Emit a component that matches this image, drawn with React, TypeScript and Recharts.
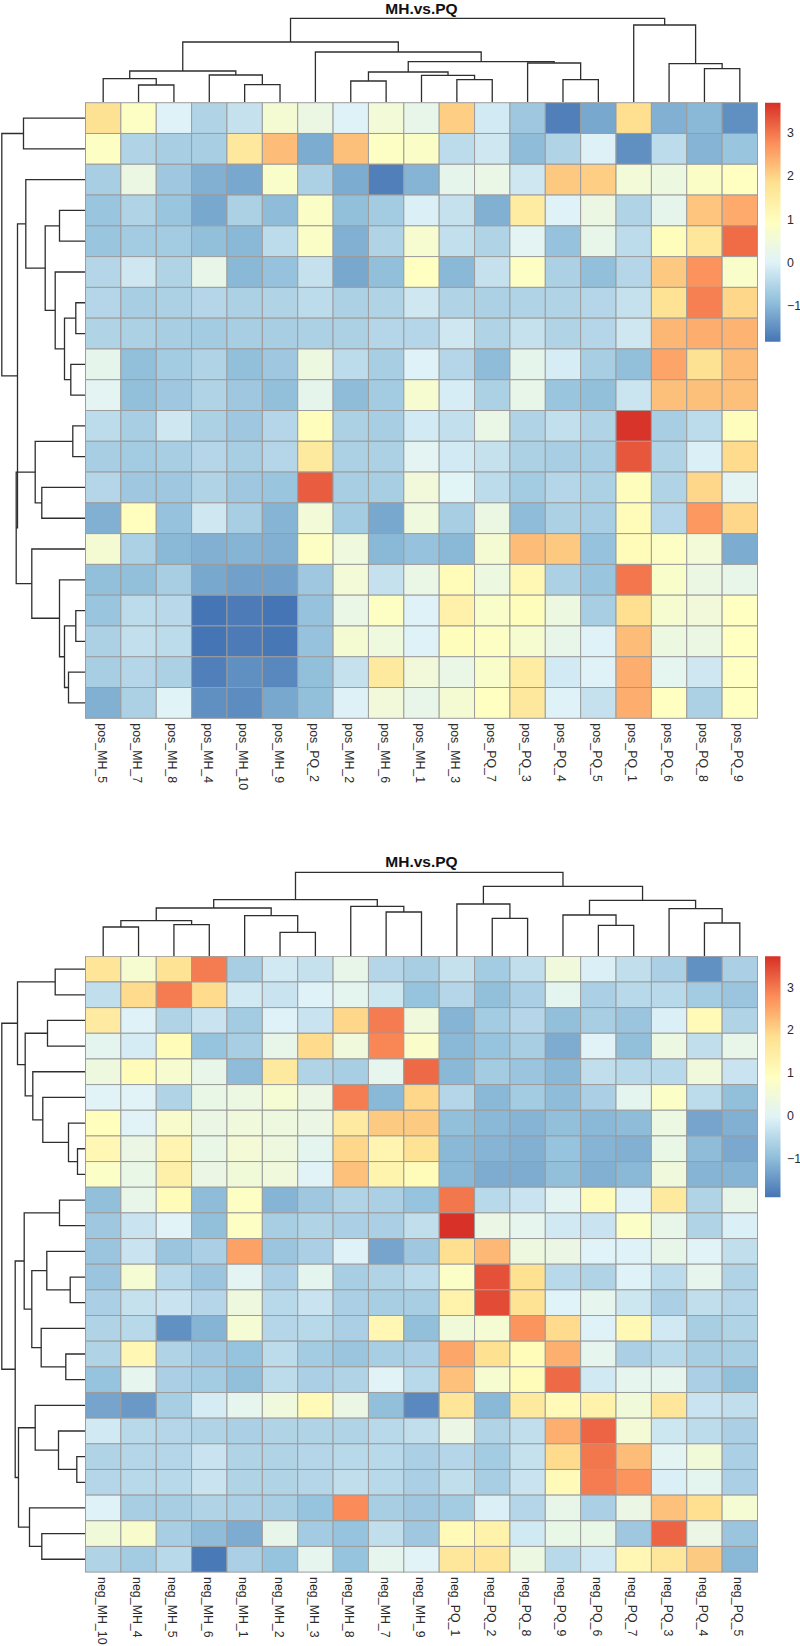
import { ReferenceArea, Scatter, ScatterChart, XAxis, YAxis } from "recharts";

const FONT = '"Liberation Sans", Arial, sans-serif';
const TEXT_FILL = "#2b2b2b";
const LINE_STROKE = "#2e2e2e";
const CELL_STROKE = "#9c9c9c";
const RAMP = ["#4575B4", "#91BFDB", "#E0F3F8", "#FFFFBF", "#FEE090", "#FC8D59", "#D73027"];

const TITLE = "MH.vs.PQ";
const LEGEND_TICKS = [-1, 0, 1, 2, 3];

const POS_COLS = [
  "pos_MH_5", "pos_MH_7", "pos_MH_8", "pos_MH_4", "pos_MH_10", "pos_MH_9", "pos_PQ_2", "pos_MH_2", "pos_MH_6", "pos_MH_1",
  "pos_MH_3", "pos_PQ_7", "pos_PQ_3", "pos_PQ_4", "pos_PQ_5", "pos_PQ_1", "pos_PQ_6", "pos_PQ_8", "pos_PQ_9",
];

const NEG_COLS = [
  "neg_MH_10", "neg_MH_4", "neg_MH_5", "neg_MH_6", "neg_MH_1", "neg_MH_2", "neg_MH_3", "neg_MH_8", "neg_MH_7", "neg_MH_9",
  "neg_PQ_1", "neg_PQ_2", "neg_PQ_8", "neg_PQ_9", "neg_PQ_6", "neg_PQ_7", "neg_PQ_3", "neg_PQ_4", "neg_PQ_5",
];

const POS_VALUES = [
  [1.8, 0.85, 0, -0.55, -0.3, 0.6, 0.35, 0, 0.55, 0.25, 2.05, -0.15, -0.75, -1.7, -1.2, 1.85, -1.1, -1, -1.5],
  [0.85, -0.55, -0.65, -0.65, 1.6, 2.25, -1.15, 2.2, 0.85, 0.8, -0.4, -0.2, -0.95, -0.55, -0.02, -1.5, -0.4, -1.05, -0.8],
  [-0.65, 0.35, -0.75, -1.1, -1.2, 0.75, -0.6, -1.15, -1.7, -1.05, 0.2, 0.3, -0.2, 2.1, 2.05, 0.55, 0.4, 0.8, 0.9],
  [-0.8, -0.55, -0.8, -1.2, -0.6, -0.95, 0.8, -0.9, -0.7, -0.05, -0.3, -1.1, 1.5, 0, 0.35, -0.55, 0.2, 2.15, 2.45],
  [-0.8, -0.7, -0.7, -0.9, -1, -0.4, 0.8, -1.1, -0.55, 0.65, -0.35, -0.55, 0.1, -0.85, 0.25, -0.4, 1, 1.65, 3.1],
  [-0.5, -0.2, -0.55, 0.25, -1, -0.85, -0.3, -1.2, -0.9, 0.9, -1, -0.3, 0.85, -0.6, -0.9, -0.5, 2.1, 2.7, 0.75],
  [-0.5, -0.65, -0.6, -0.5, -0.6, -0.55, -0.4, -0.6, -0.55, -0.2, -0.55, -0.6, -0.55, -0.55, -0.5, -0.3, 1.75, 2.9, 1.95],
  [-0.55, -0.6, -0.65, -0.7, -0.65, -0.65, -0.6, -0.6, -0.5, -0.5, -0.2, -0.55, -0.3, -0.55, -0.5, -0.2, 2.3, 2.4, 2.35],
  [0.2, -0.9, -0.7, -0.55, -0.9, -0.75, 0.4, -0.4, -0.65, 0, -0.5, -0.95, 0.2, -0.1, -0.65, -0.9, 2.5, 1.8, 2.25],
  [0.1, -0.9, -0.75, -0.55, -0.75, -0.9, 0.2, -0.95, -0.7, 0.65, -0.1, -0.6, 0.25, -0.8, -0.9, -0.25, 2.2, 2.2, 2.2],
  [-0.4, -0.65, -0.2, -0.6, -0.75, -0.5, 1, -0.6, -0.65, -0.15, -0.35, 0.3, -0.55, -0.35, -0.55, 3.65, -0.65, -0.4, 1],
  [-0.65, -0.7, -0.65, -0.5, -0.65, -0.5, 1.55, -0.6, -0.6, 0.1, -0.15, -0.3, -0.6, -0.65, -0.65, 3.3, -0.55, -0.05, 1.9],
  [-0.5, -0.75, -0.75, -0.55, -0.75, -0.8, 3.25, -0.65, -0.65, 0.5, 0.05, -0.4, -0.7, -0.5, -0.6, 1, -0.55, 1.95, 0.1],
  [-1.1, 0.95, -0.85, -0.2, -0.65, -1.05, 0.55, -0.7, -1.2, 0.45, -0.65, 0.35, -0.95, -0.6, -0.65, 1.05, -0.5, 2.65, 1.95],
  [0.6, -0.6, -1, -1.1, -1.05, -1.1, 0.85, 0.45, -1, -0.85, -1, 0.6, 2.25, 2.1, -0.85, 1.05, 0.85, 0.55, -1.15],
  [-0.9, -0.9, -0.65, -1.2, -1.3, -1.3, -0.75, 0.55, -0.3, 0.3, 1.05, 0.4, 1.15, -0.6, -0.8, 3, 0.75, 0.35, 0.25],
  [-0.8, -0.4, -0.45, -1.85, -1.75, -1.85, -0.85, 0.3, 0.85, 0, 1.35, 0.75, 1, 0.4, -0.65, 1.85, 0.65, 0.5, 0.9],
  [-0.6, -0.35, -0.4, -1.85, -1.75, -1.8, -0.85, 0.6, 0.45, 0, 1, 0.85, 0.65, 0.25, 0, 2.25, 0.4, 0.35, 0.9],
  [-0.65, -0.5, -0.6, -1.7, -1.5, -1.6, -0.9, -0.3, 1.55, 0.5, 0.3, 0.75, 1.5, -0.15, 0, 2.4, 0.15, -0.2, 0.9],
  [-1.1, -0.6, 0.02, -1.5, -1.55, -1.2, -0.9, -0.03, 0.5, 0.25, 0.6, 0.9, 1.6, 0, -0.3, 2.4, 0.9, -0.6, 0.9],
];

const NEG_VALUES = [
  [1.7, 0.65, 1.75, 2.95, -0.7, -0.2, -0.35, 0.2, -0.55, -0.7, -0.35, -0.75, -0.4, 0.45, -0.1, -0.4, -0.65, -1.55, -0.65],
  [-0.4, 1.9, 2.95, 1.9, -0.2, -0.3, -0.05, 0.1, -0.25, -0.9, -0.55, -0.95, -0.65, 0.1, -0.65, -0.5, -0.5, -0.75, -0.85],
  [1.5, -0.05, -0.6, -0.3, -0.75, -0.05, -0.3, 1.95, 2.95, 0.45, -1.1, -0.75, -0.55, -0.95, -0.7, -0.85, -0.1, 1.05, -0.6],
  [0.1, -0.15, 1, -0.9, -0.7, 0.2, 1.9, 0.45, 2.85, 0.75, -1.05, -0.9, -0.7, -1.2, 0, -0.95, 0.35, -0.4, 0.2],
  [0.4, 1, 0.65, 0.2, -1, 1.55, -0.6, -0.7, 0.15, 3.15, -1.05, -0.75, -0.85, -1.05, -0.4, -0.5, -0.5, 0.45, -0.3],
  [0, 0, -0.6, 0.25, 0.35, 0.6, 0.3, 2.95, -1.05, 1.95, -0.55, -1.05, -0.75, -1, -0.65, 0.1, 0.8, -0.45, -0.95],
  [0.95, 0, 0.7, 0.3, 0.45, 0.4, 0.3, 1.5, 2.1, 2.1, -0.95, -1.05, -1.1, -0.95, -1.05, -1, 0.35, -1.3, -1.15],
  [1.15, 0.3, 1.2, 0.25, 0.55, 0.4, 0.1, 1.95, 1.2, 1.75, -1.05, -1.1, -1.15, -0.9, -1.1, -1.15, 0.25, -1, -1.25],
  [0.8, 0.25, 1.35, 0.3, 0.5, 0.45, 0, 2.2, 1.25, 1, -1.05, -1.2, -1.2, -0.95, -1.15, -1.05, 0.45, -1.1, -1.1],
  [-0.95, 0.2, 1, -1, 0.85, -1.1, -0.8, -0.6, -0.65, -0.9, 3, -0.5, -0.3, 0.05, 1, 0, 1.55, -0.6, 0.2],
  [-0.8, -0.3, 0, -0.95, 0.85, -0.7, -0.6, -0.65, -0.65, -0.4, 3.7, 0.3, 0.15, -0.2, -0.3, 0.8, 0.2, -0.6, -0.1],
  [-0.85, -0.3, -0.85, -0.65, 2.55, -0.85, -0.65, -0.05, -1.3, -0.8, 1.85, 2.3, 0.4, 0.3, -0.03, -0.05, 0.2, 0, -0.4],
  [-0.85, 0.6, -0.5, -0.85, 0.05, -0.65, 0.1, -0.7, -0.6, -0.45, 0.8, 3.4, 1.8, -0.5, -0.6, -0.05, -0.45, 0.15, -0.6],
  [-0.65, -0.35, -0.3, -0.55, 0.4, -0.5, -0.3, -0.65, -0.7, -0.7, 1.3, 3.45, 1.75, -0.03, 0.15, -0.25, -0.65, -0.4, -0.55],
  [-0.6, -0.5, -1.55, -1.1, 0.6, -0.55, -0.5, -0.65, 1.15, -0.95, 0.5, 0.6, 2.7, 1.9, -0.05, 1.1, -0.2, -0.7, -0.6],
  [-0.6, 1.15, -0.6, -0.8, -0.9, -0.45, -0.75, -0.85, -0.7, -0.65, 2.5, 1.8, 1, 2.4, 0.15, -0.65, -0.5, -0.7, -0.7],
  [-0.9, 0.15, -0.65, -0.75, -0.95, -0.45, -0.65, -0.6, 0, -0.5, 2.2, 0.65, 1, 3.15, -0.2, 0.15, 0.15, -0.65, -0.95],
  [-1.3, -1.45, -0.7, -0.15, 0.15, 0.45, 1.05, 0.3, -0.95, -1.65, 1.7, -1.05, 1.55, 1.05, 1.3, 0.5, 1.65, -0.3, -0.4],
  [-0.2, -0.5, -0.55, -0.6, -0.65, -0.6, -0.6, -0.6, -0.5, -0.4, 0.3, -0.6, -0.4, 2.4, 3.2, 0.55, -0.25, -0.45, -0.65],
  [-0.6, -0.55, -0.55, -0.3, -0.6, -0.6, -0.55, -0.5, -0.5, -0.65, -0.55, -0.75, -0.35, 1.9, 3, 2.25, 0.05, 0.5, -0.65],
  [-0.55, -0.5, -0.5, -0.3, -0.6, -0.6, -0.55, -0.4, -0.5, -0.65, -0.4, -0.7, -0.3, 1.05, 2.95, 2.7, -0.1, 0.1, -0.65],
  [-0.05, -0.7, -0.7, -0.6, -0.65, -0.7, -0.9, 2.8, -0.7, -0.8, -0.75, -0.1, -0.55, 0.2, -0.65, 0.3, 2.2, 1.85, 0.6],
  [0.5, 0.7, -0.7, -1, -1.2, 0.2, -0.75, -0.9, -0.4, -0.8, 1.05, 1.3, -0.2, 0.25, 0.25, -0.8, 3.2, 0.3, -0.85],
  [-0.6, -0.75, -0.5, -1.85, -0.65, -0.9, 0.15, -0.9, 0.15, 0, 1.65, 1.7, 0.35, -0.5, -0.2, 1.15, 1.65, 2.1, -1.05],
];

// hclust style merges: [a, b, height], a/b >= 0 is a leaf, negative is merge number -n (1 based)
type Merge = [number, number, number];

const POS_COL_MERGES: Merge[] = [
  [1, 2, 17], [0, -1, 23.3], [4, 5, 17.3], [3, -3, 27], [-2, -4, 31],
  [7, 8, 21], [10, 11, 22.3], [9, -7, 26.7], [-6, -8, 30], [13, 14, 22.3],
  [12, -10, 39], [-9, -11, 40.3], [6, -12, 50], [-5, -13, 60],
  [17, 18, 33.3], [16, -15, 38.3], [15, -16, 77], [-14, -17, 83.7],
];

const POS_ROW_MERGES: Merge[] = [
  [0, 1, 62], [6, 7, 9.7], [8, 9, 14.7], [-2, -3, 21], [5, -4, 30.3],
  [3, 4, 26], [-6, -5, 40.3], [2, -7, 59.7], [10, 11, 12.7], [12, 13, 43.7],
  [-9, -10, 50.3], [16, 17, 9.7], [18, 19, 17], [-12, -13, 21], [15, -14, 26],
  [14, -15, 53.7], [-11, -16, 69.3], [-8, -17, 68], [-1, -18, 83.7],
];

const NEG_COL_MERGES: Merge[] = [
  [0, 1, 29], [2, 3, 31.3], [-1, -2, 35.3], [5, 6, 23.7], [4, -4, 40.3],
  [-3, -5, 48], [8, 9, 44], [7, -7, 49.7], [-6, -8, 56.3], [11, 12, 37.7],
  [10, -10, 52], [14, 15, 30.7], [13, -12, 41], [17, 18, 33], [16, -14, 47.3],
  [-13, -15, 55.7], [-11, -16, 69.7], [-9, -17, 83.7],
];

const NEG_ROW_MERGES: Merge[] = [
  [0, 1, 30.3], [2, 3, 38], [7, 8, 8], [6, -3, 17], [5, -4, 42.7],
  [4, -5, 52.7], [-2, -6, 60.3], [-1, -7, 68], [9, 10, 26], [12, 13, 15.3],
  [11, -10, 38.7], [15, 16, 19.7], [14, -12, 44.3], [-11, -13, 53.7], [-9, -14, 61.3],
  [19, 20, 8.7], [18, -16, 27], [17, -17, 50.3], [22, 23, 43.7], [21, -19, 56],
  [-18, -20, 67], [-15, -21, 70.3], [-8, -22, 83.7],
];

const hexToRgb = (hex: string) => [1, 3, 5].map((i) => parseInt(hex.slice(i, i + 2), 16));

function colorFor(v: number, min: number, max: number) {
  const t = Math.max(0, Math.min(1, (v - min) / (max - min))) * (RAMP.length - 1);
  const i = Math.min(Math.floor(t), RAMP.length - 2);
  const a = hexToRgb(RAMP[i]);
  const b = hexToRgb(RAMP[i + 1]);
  const rgb = a.map((c, k) => Math.round(c + (b[k] - c) * (t - i)));
  return `rgb(${rgb.join(",")})`;
}

// turns merges into the U shaped paths of a dendrogram, in (leaf position, height)
function dendroPaths(merges: Merge[]) {
  const nodes: { pos: number; h: number }[] = [];
  const node = (ref: number) => (ref >= 0 ? { pos: ref + 0.5, h: 0 } : nodes[-ref - 1]);
  return merges.map(([a, b, h]) => {
    const l = node(a);
    const r = node(b);
    nodes.push({ pos: (l.pos + r.pos) / 2, h });
    return [
      { pos: l.pos, h: l.h },
      { pos: l.pos, h },
      { pos: r.pos, h },
      { pos: r.pos, h: r.h },
    ];
  });
}

const noDot = () => <g />;
const LEFT = 85.5;
const HEAT_W = 672;
const DENDRO_LINE = { stroke: LINE_STROKE, strokeWidth: 1.3 };

interface PanelProps {
  id: string;
  top: number;
  heatH: number;
  titleY: number;
  legendH: number;
  min: number;
  max: number;
  cols: string[];
  values: number[][];
  colMerges: Merge[];
  rowMerges: Merge[];
}

function Panel({ id, top, heatH, titleY, legendH, min, max, cols, values, colMerges, rowMerges }: PanelProps) {
  const rows = values.length;
  const cellW = HEAT_W / cols.length;
  const cellH = heatH / rows;
  const cells = values.flatMap((row, r) => row.map((v, c) => ({ x: c + 0.5, y: r + 0.5, v })));
  const topPx = Math.floor(top);
  const topRest = top - topPx;
  const dendroH = 100;

  return (
    <>
      <div
        style={{
          position: "absolute",
          left: 0,
          width: 843,
          top: titleY,
          textAlign: "center",
          font: `bold 15.5px ${FONT}`,
          color: "#111",
          lineHeight: "18px",
        }}
      >
        {TITLE}
      </div>

      {/* column dendrogram */}
      <div style={{ position: "absolute", left: 85, top: topPx - dendroH }}>
        <ScatterChart width={HEAT_W + 1} height={dendroH + 1} margin={{ top: 0, right: 0.5, bottom: 1 - topRest, left: 0.5 }}>
          <XAxis type="number" dataKey="pos" domain={[0, cols.length]} hide />
          <YAxis type="number" dataKey="h" domain={[-topRest, dendroH]} hide />
          {dendroPaths(colMerges).map((path, i) => (
            <Scatter key={i} data={path} line={DENDRO_LINE} shape={noDot} isAnimationActive={false} />
          ))}
        </ScatterChart>
      </div>

      {/* row dendrogram */}
      <div style={{ position: "absolute", left: 0, top: topPx }}>
        <ScatterChart width={86} height={heatH + 1} margin={{ top: topRest, right: 0.5, bottom: 1 - topRest, left: 0 }}>
          <XAxis type="number" dataKey="h" domain={[0, LEFT]} reversed hide />
          <YAxis type="number" dataKey="pos" domain={[0, rows]} reversed hide />
          {dendroPaths(rowMerges).map((path, i) => (
            <Scatter key={i} data={path} line={DENDRO_LINE} shape={noDot} isAnimationActive={false} />
          ))}
        </ScatterChart>
      </div>

      {/* heatmap */}
      <div style={{ position: "absolute", left: 85, top: topPx }}>
        <ScatterChart width={HEAT_W + 1} height={heatH + 100} margin={{ top: topRest, right: 0.5, bottom: 0, left: 0.5 }}>
          <XAxis
            type="number"
            dataKey="x"
            domain={[0, cols.length]}
            ticks={cols.map((_, i) => i + 0.5)}
            interval={0}
            height={100 - topRest}
            axisLine={false}
            tickLine={false}
            tick={({ x, y, payload }: any) => (
              <text
                transform={`translate(${x - 5.5},${y - 3}) rotate(90)`}
                fontSize={12.4}
                fontFamily={FONT}
                fill={TEXT_FILL}
              >
                {cols[Math.floor(payload.value)]}
              </text>
            )}
          />
          <YAxis type="number" dataKey="y" domain={[0, rows]} reversed hide />
          <Scatter
            data={cells}
            isAnimationActive={false}
            shape={({ cx, cy, payload }: any) => (
              <rect
                x={cx - cellW / 2}
                y={cy - cellH / 2}
                width={cellW}
                height={cellH}
                fill={colorFor(payload.v, min, max)}
                stroke={CELL_STROKE}
                strokeWidth={1}
              />
            )}
          />
        </ScatterChart>
      </div>

      {/* colour key */}
      <div style={{ position: "absolute", left: 765, top: topPx }}>
        <ScatterChart width={35} height={legendH + 1} margin={{ top: topRest, right: 0, bottom: 1 - topRest, left: 0 }}>
          <defs>
            <linearGradient id={id} x1="0" y1="1" x2="0" y2="0">
              {RAMP.map((c, i) => (
                <stop key={c} offset={i / (RAMP.length - 1)} stopColor={c} />
              ))}
            </linearGradient>
          </defs>
          <XAxis type="number" dataKey="x" domain={[0, 1]} hide />
          <YAxis
            type="number"
            dataKey="y"
            orientation="right"
            domain={[min, max]}
            ticks={LEGEND_TICKS}
            interval={0}
            width={19.5}
            axisLine={false}
            tickLine={false}
            tickSize={0}
            tickMargin={6.5}
            tick={{ fontSize: 12.4, fontFamily: FONT, fill: TEXT_FILL, textAnchor: "start" }}
            tickFormatter={(v: number) => (v < 0 ? `\u2212${-v}` : `${v}`)}
          />
          <ReferenceArea x1={0} x2={1} y1={min} y2={max} fill={`url(#${id})`} fillOpacity={1} stroke="none" />
          <Scatter data={LEGEND_TICKS.map((y) => ({ x: 0.5, y }))} shape={noDot} isAnimationActive={false} />
        </ScatterChart>
      </div>
    </>
  );
}

export default function App() {
  return (
    <div style={{ position: "absolute", left: 0, top: 0, width: 800, height: 1646, overflow: "hidden", background: "#fff" }}>
      <Panel
        id="keyPos"
        top={102.7}
        heatH={615.6}
        titleY={0}
        legendH={239}
        min={-1.83}
        max={3.69}
        cols={POS_COLS}
        values={POS_VALUES}
        colMerges={POS_COL_MERGES}
        rowMerges={POS_ROW_MERGES}
      />
      <Panel
        id="keyNeg"
        top={956.3}
        heatH={615.8}
        titleY={852.5}
        legendH={241}
        min={-1.9}
        max={3.72}
        cols={NEG_COLS}
        values={NEG_VALUES}
        colMerges={NEG_COL_MERGES}
        rowMerges={NEG_ROW_MERGES}
      />
    </div>
  );
}
